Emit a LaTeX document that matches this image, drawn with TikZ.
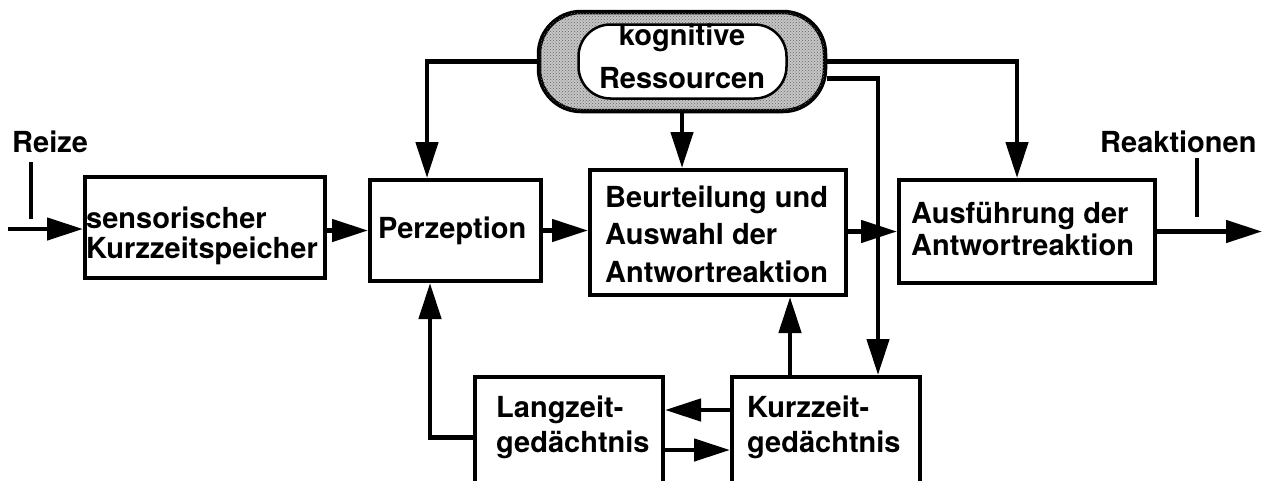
\documentclass[tikz,border=0pt]{standalone}
\usepackage{fontspec}
\setmainfont{TeX Gyre Heros}
\usetikzlibrary{arrows.meta,patterns}
\begin{document}
\begin{tikzpicture}[x=1pt,y=-1pt,
  box/.style={draw,line width=4pt,inner sep=0pt,fill=white},
  txt/.style={inner sep=0pt,anchor=base west,align=left},
  lbl/.style={inner sep=0pt,anchor=base west},
  flow/.style={line width=4.5pt,-{Triangle[length=36pt,width=22pt]}},
  tick/.style={line width=3.5pt}]
% text size with a chosen line distance; multi-line texts are placed by their last baseline
\newcommand\sz[1]{\fontsize{29}{#1}\selectfont\bfseries}
\useasboundingbox (0,0) rectangle (1265,480);
\clip (0,0) rectangle (1265,480);

% processing stages
\node[box,minimum width=240,minimum height=101] (sens) at (205,227.5) {};
\node[box,minimum width=171,minimum height=101] (perz) at (455.5,230.5) {};
\node[box,minimum width=256,minimum height=125] (beur) at (718,232.5) {};
\node[box,minimum width=256,minimum height=103] (ausf) at (1027,231.5) {};

% memory stores
\node[box,minimum width=188,minimum height=121] (lang) at (569,437.5) {};
\node[box,minimum width=188,minimum height=121] (kurz) at (826,437.5) {};

% cognitive resources: shaded capsule with a white inner capsule
\node[draw,line width=4.5pt,rounded corners=42pt,fill=gray!45,
      postaction={pattern=crosshatch dots,pattern color=black!60},
      minimum width=286,minimum height=99] (kog) at (682,61.5) {};
\node[draw,line width=2.5pt,rounded corners=32pt,fill=white,
      minimum width=208,minimum height=74] (kogin) at (682.5,61.5) {};

% box texts
\node[txt,font=\sz{30}] (senst) at (86,258) {sensorischer\\Kurzzeitspeicher};
\node[txt,font=\sz{31}] (perzt) at (378,238) {Perzeption};
\node[txt,font=\sz{37.5}] (beurt) at (605,282) {Beurteilung und\\Auswahl der\\Antwortreaktion};
\node[txt,font=\sz{32}] (ausft) at (911,255) {Ausführung der\\Antwortreaktion};
\node[txt,font=\sz{35}] (langt) at (496,452) {Langzeit-\\gedächtnis};
\node[txt,font=\sz{35}] (kurzt) at (747,452) {Kurzzeit-\\gedächtnis};
\node[inner sep=0pt,anchor=base,align=center,font=\sz{43}] (kogt) at (682,88) {kognitive\\Ressourcen};

% input and output labels
\node[lbl,font=\sz{31}] (reize) at (12,152) {Reize};
\node[lbl,font=\sz{31}] (reakt) at (1100,152) {Reaktionen};
\coordinate (in) at (8,229);
\coordinate (out) at (1262,231.5);
\coordinate (rz1) at (31,162);
\coordinate (rz2) at (31,219);
\coordinate (ra1) at (1197,158);
\coordinate (ra2) at (1197,217);
\draw[tick] (rz1) -- (rz2);
\draw[tick] (ra1) -- (ra2);

% forward flow
\draw[flow] (in) -- (in -| sens.west);
\draw[flow] (sens.east |- perz.west) -- (perz.west);
\draw[flow] (perz.east) -- (perz.east -| beur.west);
\draw[flow] (ausf.east) -- (ausf.east -| out);

% resource allocation
\draw[flow] (kog.west) -| ([xshift=-28.5pt]perz.north);
\draw[flow] (kog.south) -- (kog.south |- beur.north);
\draw[flow] (kog.east) -| ([xshift=-10pt]ausf.north);
\draw[flow] ([yshift=-17pt]kog.east) -| ([xshift=52pt]kurz.north);
\draw[flow] (beur.east |- ausf.west) -- (ausf.west);

% memory interactions
\draw[flow] ([xshift=-36pt]kurz.north) -- ([xshift=-36pt]kurz.north |- beur.south);
\draw[flow] ([yshift=27.5pt]kurz.west) -- ([yshift=27.5pt]lang.east);
\draw[flow] ([yshift=-12.5pt]lang.east) -- ([yshift=-12.5pt]kurz.west);
\draw[flow] (lang.west) -| ([xshift=-25.5pt]perz.south);
\end{tikzpicture}
\end{document}
